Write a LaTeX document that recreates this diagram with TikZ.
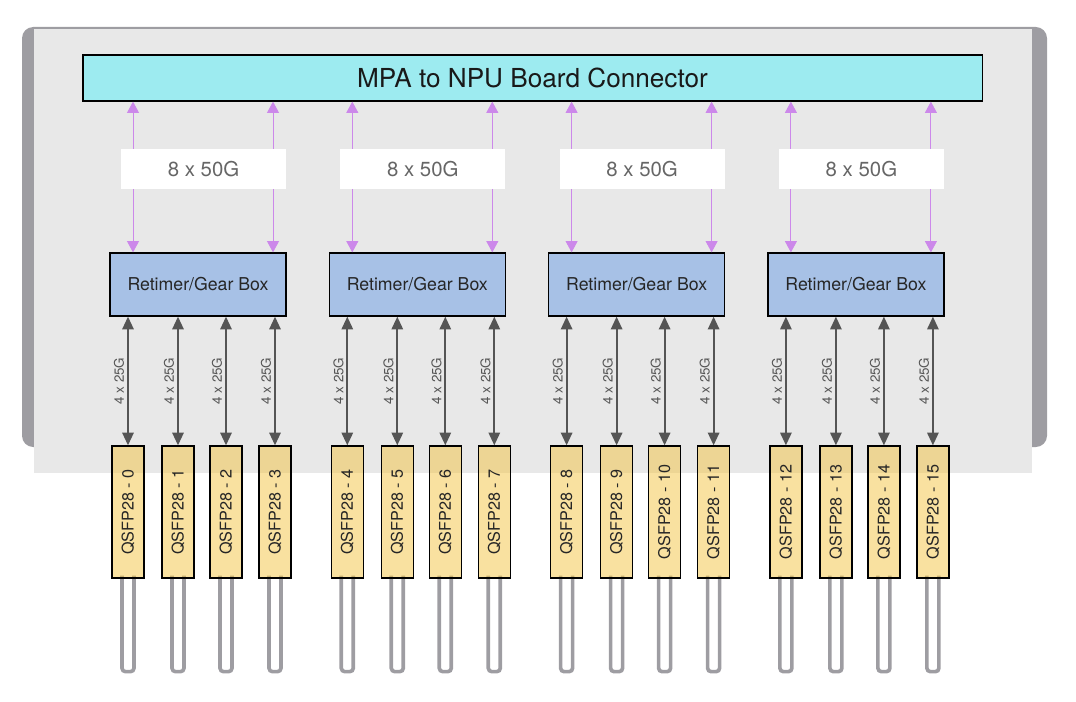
\documentclass[tikz,border=0pt]{standalone}
\usepackage{fontspec}
\setmainfont{TeX Gyre Heros}
\usetikzlibrary{arrows.meta, backgrounds, calc}

\definecolor{framegray}{HTML}{9E9DA2}
\definecolor{panelgray}{HTML}{E8E8E8}
\definecolor{conncyan}{HTML}{9DEBF0}
\definecolor{rgblue}{HTML}{A7C1E6}
\definecolor{qsfpgold}{RGB}{243,195,65}
\definecolor{lanepurple}{HTML}{CC88EA}
\definecolor{lanegray}{HTML}{555555}
\definecolor{ratetext}{HTML}{666666}

\tikzset{
  connbox/.style={draw=black, line width=0.9pt, fill=conncyan, inner sep=0pt,
    minimum width=22.475cm, minimum height=1.15cm,
    font=\fontsize{18.6}{21}\selectfont, text=black!90},
  rgbox/.style={draw=black, line width=0.9pt, fill=rgblue, inner sep=0pt,
    minimum width=4.4cm, minimum height=1.575cm,
    font=\fontsize{12.6}{15}\selectfont, text=black!85},
  ratebox/.style={fill=white, inner sep=0pt, minimum width=4.125cm, minimum height=0.975cm,
    font=\fontsize{14.5}{17}\selectfont, text=ratetext},
  qsfp/.style={draw=black, line width=0.9pt, fill=qsfpgold, fill opacity=0.5, text opacity=1,
    inner sep=0pt, minimum width=3.3cm, minimum height=0.8cm, rotate=90,
    font=\fontsize{11.5}{13}\selectfont, text=black!85},
  lanewide/.style={<->, draw=lanepurple, fill=lanepurple, line width=0.6pt,
    >={Triangle[width=8.5pt,length=8pt]}},
  lanenarrow/.style={<->, draw=lanegray, fill=lanegray, line width=1.4pt,
    >={Triangle[width=8pt,length=9pt]}},
  ratelabel/.style={font=\fontsize{9.5}{11}\selectfont, text=lanegray, fill=none, inner sep=2pt},
  cable/.style={draw=framegray, line width=2.6pt, rounded corners=2.5pt}
}

\begin{document}
\begin{tikzpicture}[x=0.025cm, y=-0.025cm]
  \useasboundingbox (0,0) rectangle (1076,702);

  % chassis
  \begin{scope}[on background layer]
    \fill[framegray, rounded corners=8pt] (22,27) rectangle (1047,447);
    \fill[panelgray] (34,29) rectangle (1032,473);
  \end{scope}

  \node[connbox] (conn) at (532.5,78) {MPA to NPU Board Connector};

  \foreach \g in {0,...,3}{
    \pgfmathsetmacro{\xa}{133+219.3*\g}
    \coordinate (pl\g) at (\xa,101);
    \coordinate (pr\g) at (\xa+140,101);
    \node[rgbox] (rg\g) at (\xa+65,284.5) {Retimer/Gear Box};

    \draw[lanewide] (rg\g.north -| pl\g) -- (conn.south -| pl\g);
    \draw[lanewide] (rg\g.north -| pr\g) -- (conn.south -| pr\g);
    \node[ratebox] (lbl\g) at (\xa+70.5,169) {8 x 50G};

    \foreach \k/\dx in {0/0,1/50,2/98,3/147}{
      \pgfmathtruncatemacro{\n}{4*\g+\k}
      \node[qsfp] (q\n) at (\xa-5+\dx,512) {QSFP28 - \n};
      \begin{scope}[on background layer]
        \draw[cable] ($(q\n.west)+(-6,-3)$) -- ($(q\n.west)+(-6,93)$)
          -- ($(q\n.west)+(6,93)$) -- ($(q\n.west)+(6,-3)$);
      \end{scope}
      \draw[lanenarrow] (q\n.east) -- (q\n.east |- rg\g.south)
        node[midway, sloped, above, ratelabel] {4 x 25G};
    }
  }
\end{tikzpicture}
\end{document}
